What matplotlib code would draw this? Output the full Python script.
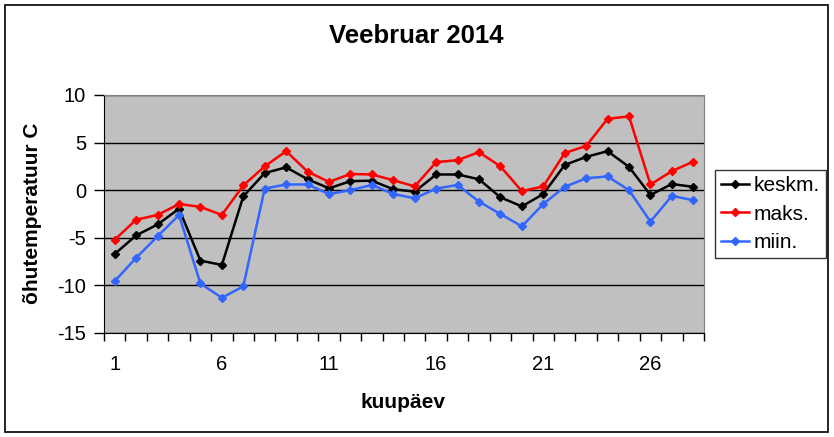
import matplotlib.pyplot as plt
from matplotlib.patches import Rectangle

plt.rcParams['font.family'] = ['Liberation Sans', 'DejaVu Sans']
plt.rcParams['axes.unicode_minus'] = False

# kuupäevad ja temperatuurid (loetud pildilt)
paevad = list(range(1, 29))
keskm = [-6.7, -4.75, -3.6, -1.95, -7.4, -7.85, -0.65, 1.8, 2.4, 1.15,
         0.2, 0.95, 1.0, 0.1, -0.15, 1.65, 1.65, 1.15, -0.75, -1.7,
         -0.4, 2.65, 3.5, 4.1, 2.45, -0.5, 0.65, 0.35]
maks = [-5.2, -3.1, -2.6, -1.45, -1.75, -2.6, 0.5, 2.5, 4.1, 1.95,
        0.87, 1.7, 1.65, 1.05, 0.4, 2.95, 3.15, 4.0, 2.5, -0.1,
        0.4, 3.9, 4.65, 7.5, 7.75, 0.6, 2.0, 3.0]
miin = [-9.55, -7.1, -4.85, -2.6, -9.8, -11.3, -10.1, 0.17, 0.6, 0.6,
        -0.4, 0.0, 0.55, -0.4, -0.85, 0.17, 0.55, -1.2, -2.5, -3.8,
        -1.45, 0.35, 1.25, 1.45, 0.0, -3.3, -0.6, -1.05]
x_sildid = [1, 6, 11, 16, 21, 26]
y_sildid = [-15, -10, -5, 0, 5, 10]

W, H = 834, 437
fig = plt.figure(figsize=(W / 100, H / 100), dpi=100)
ax = fig.add_axes([104 / W, 104 / H, 600 / W, 238 / H])
ax.set_facecolor('#C0C0C0')

ax.plot(paevad, keskm, color='black', marker='D', markersize=4, linewidth=1.8, label='keskm.')
ax.plot(paevad, maks, color='#FF0000', marker='D', markersize=4, linewidth=1.8, label='maks.')
ax.plot(paevad, miin, color='#3366FF', marker='D', markersize=4, linewidth=1.8, label='miin.')

ax.set_xlim(0.5, 28.5)
ax.set_ylim(-15, 10)
ax.set_yticks(y_sildid)
ax.set_xticks(x_sildid)
ax.set_xticks([d + 0.5 for d in range(0, 29)], minor=True)
ax.tick_params(axis='x', which='major', length=0, pad=16, labelsize=14.5)
ax.tick_params(axis='x', which='minor', length=6, width=1, direction='out')
ax.tick_params(axis='y', length=7, width=1, direction='out', pad=6, labelsize=14.5)

ax.set_axisbelow(True)
ax.grid(True, axis='y', color='black', linewidth=1)
ax.spines['left'].set_color('black')
ax.spines['bottom'].set_color('black')
ax.spines['top'].set_color('#808080')
ax.spines['right'].set_color('#808080')

fig.text(416 / W, 1 - 36 / H, 'Veebruar 2014', ha='center', va='center',
         fontsize=18.5, fontweight='bold')
fig.text(33 / W, 1 - 213 / H, 'õhutemperatuur C', ha='center', va='center',
         rotation=90, fontsize=15, fontweight='bold')
fig.text(403 / W, 1 - 403 / H, 'kuupäev', ha='center', va='center',
         fontsize=15, fontweight='bold')

leg = fig.legend(loc='center left', bbox_to_anchor=(715 / W, 1 - 214 / H),
                 fontsize=15, frameon=True, fancybox=False, edgecolor='black',
                 handlelength=1.35, handletextpad=0.2, labelspacing=0.45,
                 borderpad=0.3, borderaxespad=0)
leg.get_frame().set_linewidth(1)

fig.patches.append(Rectangle((5 / W, 5 / H), 823 / W, 427 / H, transform=fig.transFigure,
                             fill=False, edgecolor='black', linewidth=1.2))

fig.savefig('out.png', dpi=100)
